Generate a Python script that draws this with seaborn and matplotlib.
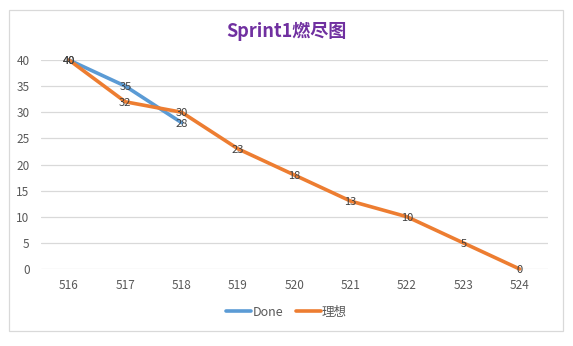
import matplotlib
matplotlib.use("Agg")
import matplotlib.pyplot as plt
import seaborn as sns
import pandas as pd
from matplotlib.patches import Rectangle

days = ["516", "517", "518", "519", "520", "521", "522", "523", "524"]
done_values = [40, 35, 28]
ideal_values = [40, 32, 30, 23, 18, 13, 10, 5, 0]
series_names = ["Done", "理想"]
y_ticks = [0, 5, 10, 15, 20, 25, 30, 35, 40]

colors = {"Done": "#5B9BD5", "理想": "#ED7D31"}

sns.set_theme(style="white")
plt.rcParams["font.family"] = ["Noto Sans CJK SC", "DejaVu Sans"]

df = pd.concat([
    pd.DataFrame({"day": days[:len(done_values)], "value": done_values, "series": series_names[0]}),
    pd.DataFrame({"day": days, "value": ideal_values, "series": series_names[1]}),
], ignore_index=True)

fig = plt.figure(figsize=(5.73, 3.46), dpi=100)
ax = fig.add_axes([0.0712, 0.2225, 0.8848, 0.6041])

sns.lineplot(data=df, x="day", y="value", hue="series", palette=colors,
             sort=False, linewidth=2.6, ax=ax, legend=False)
for line in ax.lines:
    line.set_clip_on(False)
    line.set_solid_capstyle("round")

# data labels centred on each point
xpos = {d: i for i, d in enumerate(days)}
for _, row in df.iterrows():
    ax.text(xpos[row["day"]], row["value"], f"{row['value']}", ha="center", va="center_baseline",
            fontsize=8, color="#404040", zorder=5)

ax.set_xlim(-0.5, len(days) - 0.5)
ax.set_ylim(0, 40)
ax.set_yticks(y_ticks)
ax.set_xticks(range(len(days)))
ax.set_xticklabels(days)
ax.yaxis.grid(True, color="#D9D9D9", linewidth=0.9)
ax.set_axisbelow(True)
for s in ax.spines.values():
    s.set_visible(False)
ax.tick_params(axis="both", length=0, labelsize=8.5, labelcolor="#595959")
ax.tick_params(axis="x", pad=7)
ax.tick_params(axis="y", pad=8)
ax.set_xlabel("")
ax.set_ylabel("")

fig.text(0.5, 0.91, "Sprint1燃尽图", ha="center", va="center", fontsize=13,
         fontweight="bold", color="#7030A0")

handles = [plt.Line2D([], [], color=colors[n], linewidth=2.6) for n in series_names]
fig.legend(handles, series_names, loc="center", bbox_to_anchor=(0.5, 0.098), ncol=2,
           frameon=False, fontsize=9, handlelength=2.0, handletextpad=0.1,
           columnspacing=1.0, labelcolor="#595959")

# chart frame
fig.patches.append(Rectangle((9 / 573, 1 - 331 / 346), 554 / 573, 321 / 346,
                             transform=fig.transFigure, fill=False,
                             edgecolor="#D9D9D9", linewidth=0.9))

fig.savefig("out.png", dpi=100)
